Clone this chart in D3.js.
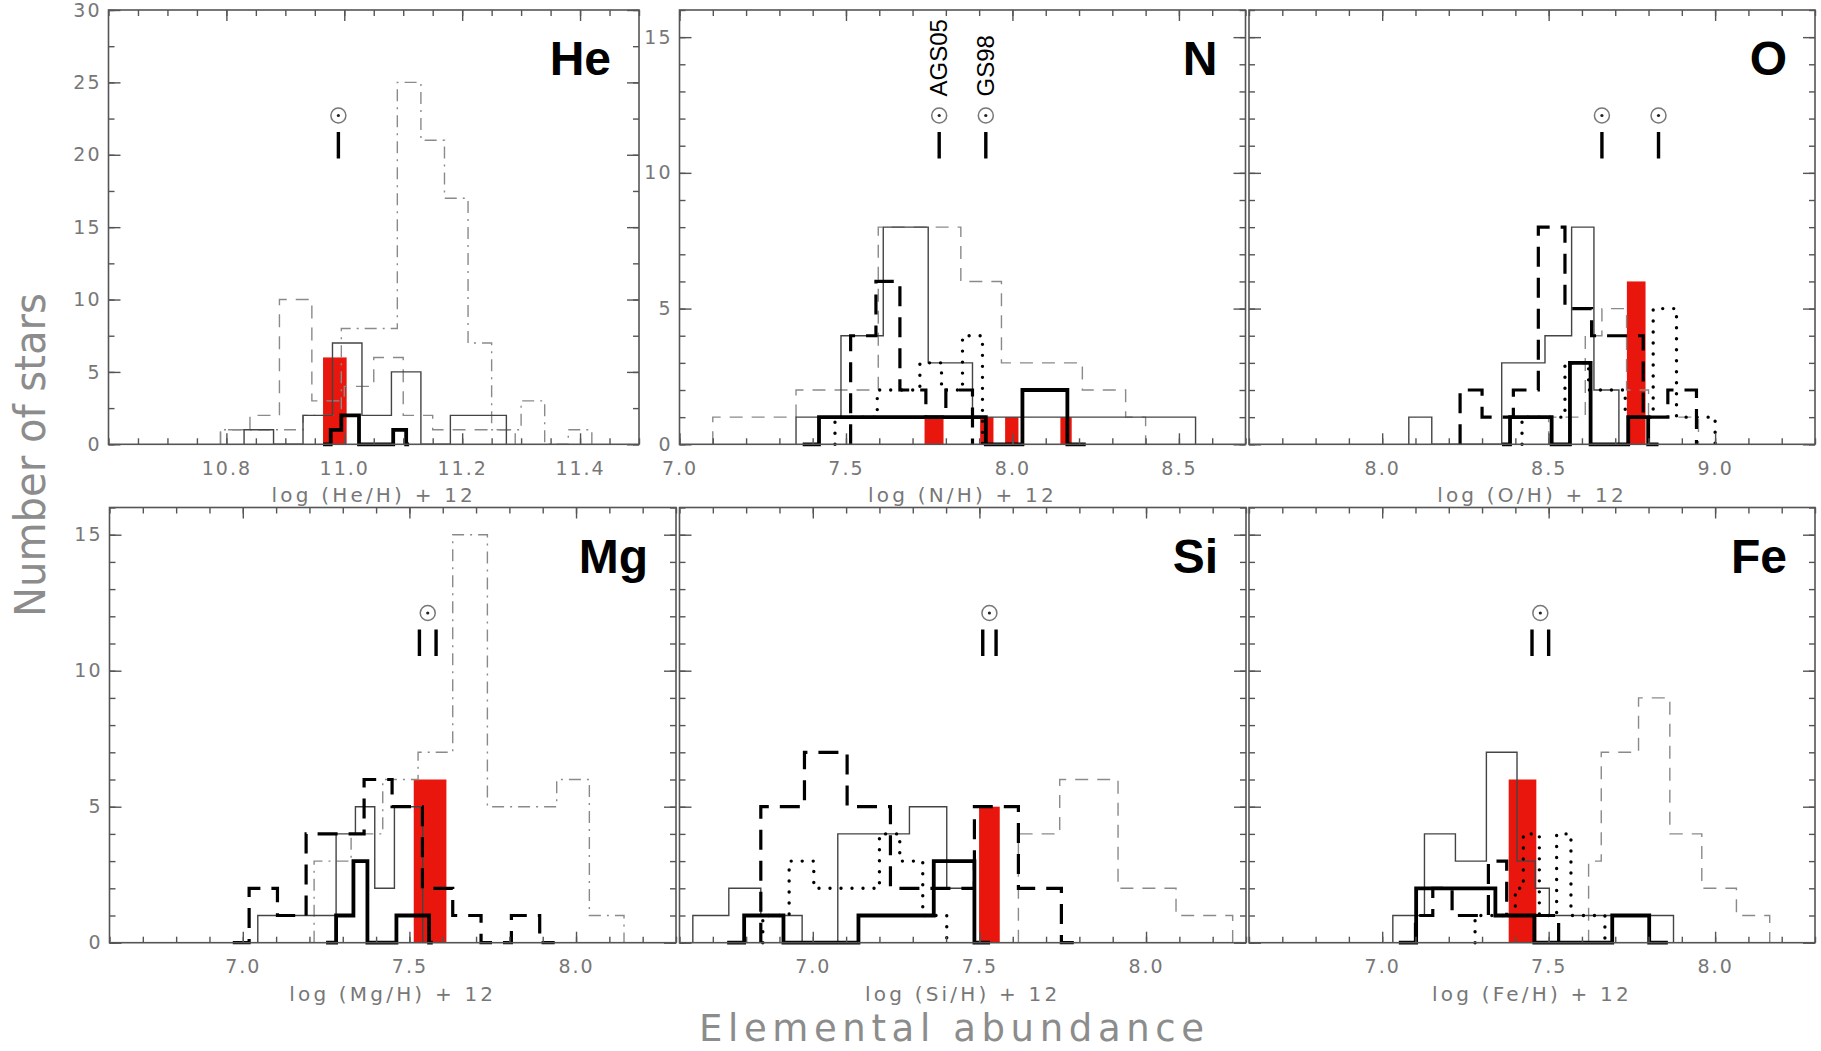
<!DOCTYPE html>
<html><head><meta charset="utf-8">
<script src="https://cdn.jsdelivr.net/npm/d3@7"></script>
<style>
body{margin:0;background:#fff;}
svg{display:block;}
.tick text{font-family:"DejaVu Sans",sans-serif;font-size:19px;fill:#777;letter-spacing:2px;}
.tick line{stroke:#555;stroke-width:1.4px;}
</style></head><body>
<svg id="c" width="1821" height="1051"></svg>
<script>
// ---------------- DATA ----------------
// bins: [left edge, right edge, number of stars]
// He panel
const He_xDomain = [10.6, 11.5];
const He_yDomain = [0, 30];
const He_xMajor = [10.8, 11.0, 11.2, 11.4];
const He_yMajor = [0, 5, 10, 15, 20, 25, 30];
const He_dashdot = [[10.79,10.93,1],[10.93,10.995,2],[10.995,11.09,8],[11.09,11.13,25],[11.13,11.17,21],[11.17,11.21,17],[11.21,11.25,7],[11.25,11.30,1],[11.30,11.34,3],[11.34,11.38,0],[11.38,11.42,1]];
const He_dashed = [[10.79,10.84,1],[10.84,10.89,2],[10.89,10.945,10],[10.945,11.0,3],[11.0,11.05,4],[11.05,11.1,6],[11.1,11.15,2],[11.15,11.29,1]];
const He_thin = [[10.83,10.88,1],[10.88,10.93,0],[10.93,10.98,2],[10.98,11.03,7],[11.03,11.08,2],[11.08,11.13,5],[11.13,11.18,0],[11.18,11.275,2]];
const He_thick = [[10.964,10.977,0],[10.977,10.995,1],[10.995,11.025,2],[11.025,11.083,0],[11.083,11.105,1],[11.105,11.11,0]];
const He_red = [[10.964,11.004,6]];
const He_sun = [10.99];

// N panel
const N_xDomain = [7.0, 8.7];
const N_yDomain = [0, 16];
const N_xMajor = [7.0, 7.5, 8.0, 8.5];
const N_yMajor = [0, 5, 10, 15];
const N_dashed = [[7.10,7.35,1],[7.35,7.597,2],[7.597,7.845,8],[7.845,7.967,6],[7.967,8.21,3],[8.21,8.34,2],[8.34,8.40,1]];
const N_thin = [[7.35,7.485,1],[7.485,7.612,4],[7.612,7.747,8],[7.747,7.88,3],[7.88,8.55,1]];
const N_dotted = [[7.467,7.594,1],[7.594,7.722,2],[7.722,7.787,3],[7.787,7.85,2],[7.85,7.91,4]];
const N_ldash = [[7.514,7.59,4],[7.59,7.662,6],[7.662,7.74,2],[7.74,7.80,1],[7.80,7.88,2]];
const N_thick = [[7.37,7.419,0],[7.419,7.92,1],[7.92,8.03,0],[8.03,8.165,2],[8.165,8.22,0]];
const N_red = [[7.736,7.793,1],[7.903,7.943,1],[7.978,8.018,1],[8.144,8.178,1]];
const N_sun = [7.78, 7.92];
const N_sunLabels = ["AGS05", "GS98"];

// O panel
const O_xDomain = [7.6, 9.3];
const O_yDomain = [0, 16];
const O_xMajor = [8.0, 8.5, 9.0];
const O_yMajor = [0, 5, 10, 15];
const O_dashed = [[8.50,8.61,1],[8.61,8.66,4],[8.66,8.734,5],[8.734,8.80,2],[8.80,8.95,1]];
const O_thin = [[8.08,8.149,1],[8.149,8.359,0],[8.359,8.489,3],[8.489,8.569,4],[8.569,8.636,8],[8.636,8.711,2]];
const O_dotted = [[8.42,8.549,1],[8.549,8.62,3],[8.62,8.73,2],[8.73,8.814,1],[8.814,8.884,5],[8.884,9.0,1]];
const O_ldash = [[8.234,8.30,2],[8.30,8.394,1],[8.394,8.469,2],[8.469,8.549,8],[8.549,8.629,5],[8.629,8.784,4],[8.784,8.858,1],[8.858,8.944,2]];
const O_thick = [[8.36,8.384,0],[8.384,8.509,1],[8.509,8.564,0],[8.564,8.626,3],[8.626,8.739,0],[8.739,8.799,1],[8.799,8.83,0]];
const O_red = [[8.735,8.791,6]];
const O_sun = [8.66, 8.83];

// Mg panel
const Mg_xDomain = [6.6, 8.3];
const Mg_yDomain = [0, 16];
const Mg_xMajor = [7.0, 7.5, 8.0];
const Mg_yMajor = [0, 5, 10, 15];
const Mg_dashdot = [[7.214,7.325,3],[7.325,7.42,4],[7.42,7.526,6],[7.526,7.63,7],[7.63,7.734,15],[7.734,7.942,5],[7.942,8.04,6],[8.04,8.144,1]];
const Mg_thin = [[7.045,7.104,1],[7.104,7.162,1],[7.162,7.28,1],[7.28,7.338,4],[7.338,7.396,5],[7.396,7.455,2],[7.455,7.54,5]];
const Mg_ldash = [[6.97,7.019,0],[7.019,7.104,2],[7.104,7.19,1],[7.19,7.364,4],[7.364,7.448,6],[7.448,7.539,5],[7.539,7.63,2],[7.63,7.715,1],[7.715,7.806,0],[7.806,7.891,1],[7.891,7.936,0]];
const Mg_thick = [[7.25,7.28,0],[7.28,7.332,1],[7.332,7.374,3],[7.374,7.461,0],[7.461,7.559,1],[7.559,7.57,0]];
const Mg_red = [[7.513,7.611,6]];
const Mg_sun = [7.53, 7.58];

// Si panel
const Si_xDomain = [6.6, 8.3];
const Si_yDomain = [0, 16];
const Si_xMajor = [7.0, 7.5, 8.0];
const Si_dashed = [[7.617,7.741,4],[7.741,7.916,6],[7.916,8.09,2],[8.09,8.26,1]];
const Si_thin = [[6.64,6.748,1],[6.748,6.844,2],[6.844,6.968,1],[6.968,7.075,0],[7.075,7.29,4],[7.29,7.402,5],[7.402,7.487,2]];
const Si_dotted = [[6.85,6.929,1],[6.929,7.003,3],[7.003,7.2,2],[7.2,7.261,4],[7.261,7.33,3],[7.33,7.402,1]];
const Si_ldash = [[6.844,6.975,5],[6.975,7.103,7],[7.103,7.233,5],[7.233,7.485,2],[7.485,7.617,5],[7.617,7.746,2],[7.746,7.79,0]];
const Si_thick = [[6.743,6.794,0],[6.794,6.912,1],[6.912,7.137,0],[7.137,7.363,1],[7.363,7.485,3],[7.485,7.532,0]];
const Si_red = [[7.499,7.561,5]];
const Si_sun = [7.51, 7.55];

// Fe panel
const Fe_xDomain = [6.6, 8.3];
const Fe_yDomain = [0, 16];
const Fe_xMajor = [7.0, 7.5, 8.0];
const Fe_dashed = [[7.62,7.658,3],[7.658,7.77,7],[7.77,7.864,9],[7.864,7.96,4],[7.96,8.064,2],[8.064,8.164,1]];
const Fe_thin = [[7.032,7.127,1],[7.127,7.22,4],[7.22,7.313,3],[7.313,7.405,7],[7.405,7.46,3],[7.46,7.502,2],[7.502,7.875,1]];
const Fe_dotted = [[7.279,7.40,1],[7.40,7.424,2],[7.424,7.472,4],[7.472,7.524,1],[7.524,7.567,4],[7.567,7.669,1]];
const Fe_ldash = [[7.10,7.152,1],[7.152,7.21,2],[7.21,7.319,1],[7.319,7.374,3],[7.374,7.53,1]];
const Fe_thick = [[7.05,7.102,0],[7.102,7.34,2],[7.34,7.457,1],[7.457,7.691,0],[7.691,7.802,1],[7.802,7.858,0]];
const Fe_red = [[7.38,7.463,6]];
const Fe_sun = [7.45, 7.50];

const yTitle = "Number of stars";
const xTitle = "Elemental abundance";

// ---------------- DRAW ----------------
const svg = d3.select("#c");
const styles = {
  dashdot:{stroke:"#8a8a8a", w:1.4, dash:"12,6,2,6", cap:"butt"},
  dashed:{stroke:"#8a8a8a", w:1.4, dash:"13,9", cap:"butt"},
  thin:{stroke:"#444", w:1.4, dash:null, cap:"butt"},
  dotted:{stroke:"#000", w:3.4, dash:"0,11", cap:"round"},
  ldash:{stroke:"#000", w:3.2, dash:"20,11", cap:"butt"},
  thick:{stroke:"#000", w:3.8, dash:null, cap:"butt"}
};

function minorTicks(dom, step){
  const out=[]; const n=Math.round((dom[1]-dom[0])/step);
  for(let i=0;i<=n;i++) out.push(+(dom[0]+i*step).toFixed(4));
  return out;
}

function drawPanel(p){
  const x = d3.scaleLinear().domain(p.xDomain).range([p.x0, p.x1]);
  const y = d3.scaleLinear().domain(p.yDomain).range([p.y1, p.y0]);
  const g = svg.append("g");

  // red bars
  g.selectAll("rect.red").data(p.red).join("rect")
    .attr("x", d=>x(d[0])).attr("width", d=>x(d[1])-x(d[0]))
    .attr("y", d=>y(d[2])).attr("height", d=>y(0)-y(d[2]))
    .attr("fill", "#e8160c");

  const line = d3.line().x(d=>x(d[0])).y(d=>y(d[1]));
  ["dashdot","dashed","thin","dotted","ldash","thick"].forEach(k=>{
    const bins = p.series[k]; if(!bins) return;
    const pts=[[bins[0][0],0]];
    bins.forEach(b=>{pts.push([b[0],b[2]]);pts.push([b[1],b[2]]);});
    pts.push([bins[bins.length-1][1],0]);
    const s=styles[k];
    g.append("path").attr("d", line(pts)).attr("fill","none")
      .attr("stroke", s.stroke).attr("stroke-width", s.w)
      .attr("stroke-dasharray", s.dash).attr("stroke-linecap", s.cap)
      .attr("stroke-linejoin","miter");
  });

  // axes (ticks inward)
  const rm = sel=>sel.select(".domain").remove();
  const xMinor = minorTicks(p.xDomain, p.xStep);
  const yMinor = minorTicks(p.yDomain, p.yStep);
  g.append("g").attr("transform",`translate(0,${p.y1})`)
    .call(d3.axisBottom(x).tickValues(xMinor).tickSize(-6).tickFormat("")).call(rm);
  g.append("g").attr("transform",`translate(0,${p.y0})`)
    .call(d3.axisTop(x).tickValues(xMinor).tickSize(-6).tickFormat("")).call(rm);
  g.append("g").attr("transform",`translate(0,${p.y0})`)
    .call(d3.axisTop(x).tickValues(p.xMajor).tickSize(-11).tickFormat("")).call(rm);
  g.append("g").attr("transform",`translate(0,${p.y1})`)
    .call(d3.axisBottom(x).tickValues(p.xMajor).tickSize(-11).tickPadding(17).tickFormat(d3.format(".1f"))).call(rm);
  g.append("g").attr("transform",`translate(${p.x0},0)`)
    .call(d3.axisLeft(y).tickValues(yMinor).tickSize(-6).tickFormat("")).call(rm);
  g.append("g").attr("transform",`translate(${p.x1},0)`)
    .call(d3.axisRight(y).tickValues(yMinor).tickSize(-6).tickFormat("")).call(rm);
  g.append("g").attr("transform",`translate(${p.x1},0)`)
    .call(d3.axisRight(y).tickValues(p.yMajor).tickSize(-12).tickFormat("")).call(rm);
  const la = d3.axisLeft(y).tickValues(p.yMajor).tickSize(-12).tickPadding(7);
  la.tickFormat(p.yLabels ? d3.format("d") : "");
  g.append("g").attr("transform",`translate(${p.x0},0)`).call(la).call(rm);

  // frame
  g.append("rect").attr("x",p.x0).attr("y",p.y0).attr("width",p.x1-p.x0).attr("height",p.y1-p.y0)
    .attr("fill","none").attr("stroke","#555").attr("stroke-width",1.6);

  // axis title
  g.append("text").attr("x",(p.x0+p.x1)/2).attr("y",p.y1+58).attr("text-anchor","middle")
    .attr("font-family","DejaVu Sans").attr("font-size",20).attr("fill","#777")
    .attr("letter-spacing","3.2px").text(`log (${p.el}/H) + 12`);

  // element label
  g.append("text").attr("x",p.x1-28).attr("y",p.y0+65).attr("text-anchor","end")
    .attr("font-family","Liberation Sans, Arial, sans-serif").attr("font-weight","bold")
    .attr("font-size",48).attr("fill","#000").text(p.el);

  // solar values
  const ty0 = p.y0+122, ty1 = p.y0+148.5;
  g.selectAll("line.sun").data(p.sun).join("line")
    .attr("x1",d=>x(d)).attr("x2",d=>x(d)).attr("y1",ty0).attr("y2",ty1)
    .attr("stroke","#000").attr("stroke-width",3.4);
  const suns = p.sunSeparate ? p.sun : [d3.mean(p.sun)];
  suns.forEach(v=>{
    g.append("circle").attr("cx",x(v)).attr("cy",p.y0+105.5).attr("r",7.5)
      .attr("fill","none").attr("stroke","#777").attr("stroke-width",1.5);
    g.append("circle").attr("cx",x(v)).attr("cy",p.y0+105.5).attr("r",1.6).attr("fill","#222");
  });
  if(p.sunLabels){
    p.sunLabels.forEach((t,i)=>{
      g.append("text").attr("transform",`translate(${x(p.sun[i])+8},${p.y0+86.5}) rotate(-90)`)
        .attr("font-family","Liberation Sans, Arial, sans-serif").attr("font-size",24)
        .attr("fill","#000").text(t);
    });
  }
}

const topY=[10,444.3], botY=[507.5,942.7];
drawPanel({el:"He",x0:108.5,x1:639,y0:topY[0],y1:topY[1],xDomain:He_xDomain,yDomain:He_yDomain,xMajor:He_xMajor,yMajor:He_yMajor,xStep:0.05,yStep:2.5,yLabels:true,
  series:{dashdot:He_dashdot,dashed:He_dashed,thin:He_thin,thick:He_thick},red:He_red,sun:He_sun,sunSeparate:true});
drawPanel({el:"N",x0:679.5,x1:1245.5,y0:topY[0],y1:topY[1],xDomain:N_xDomain,yDomain:N_yDomain,xMajor:N_xMajor,yMajor:N_yMajor,xStep:0.1,yStep:1,yLabels:true,
  series:{dashed:N_dashed,thin:N_thin,dotted:N_dotted,ldash:N_ldash,thick:N_thick},red:N_red,sun:N_sun,sunSeparate:true,sunLabels:N_sunLabels});
drawPanel({el:"O",x0:1249,x1:1815,y0:topY[0],y1:topY[1],xDomain:O_xDomain,yDomain:O_yDomain,xMajor:O_xMajor,yMajor:O_yMajor,xStep:0.1,yStep:1,yLabels:false,
  series:{dashed:O_dashed,thin:O_thin,dotted:O_dotted,ldash:O_ldash,thick:O_thick},red:O_red,sun:O_sun,sunSeparate:true});
drawPanel({el:"Mg",x0:109.5,x1:676,y0:botY[0],y1:botY[1],xDomain:Mg_xDomain,yDomain:Mg_yDomain,xMajor:Mg_xMajor,yMajor:Mg_yMajor,xStep:0.1,yStep:1,yLabels:true,
  series:{dashdot:Mg_dashdot,thin:Mg_thin,ldash:Mg_ldash,thick:Mg_thick},red:Mg_red,sun:Mg_sun,sunSeparate:false});
drawPanel({el:"Si",x0:679.5,x1:1246,y0:botY[0],y1:botY[1],xDomain:Si_xDomain,yDomain:Si_yDomain,xMajor:Si_xMajor,yMajor:Mg_yMajor,xStep:0.1,yStep:1,yLabels:false,
  series:{dashed:Si_dashed,thin:Si_thin,dotted:Si_dotted,ldash:Si_ldash,thick:Si_thick},red:Si_red,sun:Si_sun,sunSeparate:false});
drawPanel({el:"Fe",x0:1249,x1:1815,y0:botY[0],y1:botY[1],xDomain:Fe_xDomain,yDomain:Fe_yDomain,xMajor:Fe_xMajor,yMajor:Mg_yMajor,xStep:0.1,yStep:1,yLabels:false,
  series:{dashed:Fe_dashed,thin:Fe_thin,dotted:Fe_dotted,ldash:Fe_ldash,thick:Fe_thick},red:Fe_red,sun:Fe_sun,sunSeparate:false});

// global titles
svg.append("text").attr("transform","translate(45,455) rotate(-90)").attr("text-anchor","middle")
  .attr("font-family","DejaVu Sans").attr("font-size",42).attr("fill","#8c8c8c")
  .attr("textLength",324).attr("lengthAdjust","spacingAndGlyphs").text(yTitle);
svg.append("text").attr("x",951.5).attr("y",1041).attr("text-anchor","middle")
  .attr("font-family","DejaVu Sans").attr("font-size",37).attr("fill","#8c8c8c")
  .attr("textLength",505).attr("lengthAdjust","spacing").text(xTitle);
</script>
</body></html>
